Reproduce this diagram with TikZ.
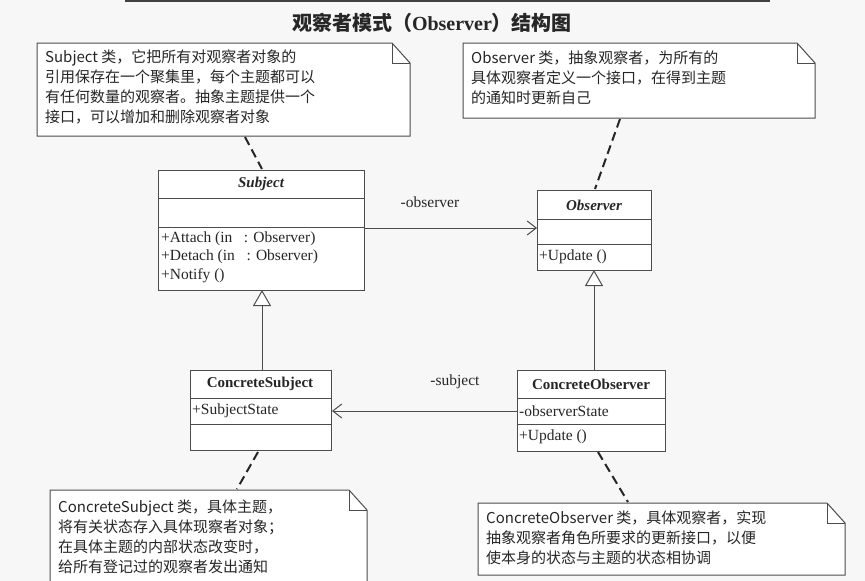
\documentclass[tikz,border=0pt]{standalone}
\usepackage{fontspec}
\setmainfont{Liberation Serif}
\newfontfamily\cjk{Noto Sans CJK SC}
\usetikzlibrary{arrows.meta}
\tikzset{
  ln/.style={draw=black!70, line width=1pt},
  notetxt/.style={anchor=north west, inner sep=0pt, font=\cjk\fontsize{15}{20}\selectfont, align=left, text=black!85},
  box/.style={ln, fill=white, anchor=north west, inner sep=0pt},
  ctxt/.style={anchor=west, inner sep=0pt, font=\fontsize{15.5}{16}\selectfont, text=black!85},
  cname/.style={inner sep=0pt, font=\bfseries\fontsize{15}{16}\selectfont, text=black!85},
  dsh/.style={draw=black!85, line width=2pt, dash pattern=on 9pt off 5pt},
  assoc/.style={ln, -{Straight Barb[length=9pt,width=14pt]}},
  gen/.style={ln, {Triangle[open,length=16pt,width=18pt,fill=white]}-},
}
\newcommand\notebox[5]{%
  \coordinate (#1nw) at (#2,#3); \coordinate (#1se) at (#4,#5);
  \draw[ln, fill=white] (#2,#3) -- (#4-18,#3) -- (#4,#3+20) -- (#4,#5) -- (#2,#5) -- cycle;
  \draw[ln] (#4-18,#3) -- (#4-18,#3+20) -- (#4,#3+20);}
\begin{document}
\begin{tikzpicture}[x=1pt,y=-1pt]
\fill[black!3] (0,0) rectangle (865,581);
\useasboundingbox (0,0) rectangle (865,581);
\draw[black!75, line width=2pt] (125,1) -- (770,1);
\node[font=\cjk\bfseries\fontsize{20}{22}\selectfont, text=black!85] (title) at (432,23) {观察者模式（\textbf{\fontspec{Liberation Serif}Observer}）结构图};

% notes
\notebox{na}{37}{43}{410}{136}
\node[notetxt] (ta) at (45,50) {Subject 类，它把所有对观察者对象的\\引用保存在一个聚集里，每个主题都可以\\有任何数量的观察者。抽象主题提供一个\\接口，可以增加和删除观察者对象};
\notebox{nb}{463}{43}{815}{118}
\node[notetxt] (tb) at (471,51) {Observer 类，抽象观察者，为所有的\\具体观察者定义一个接口，在得到主题\\的通知时更新自己};
\notebox{nc}{50}{490}{367}{590}
\node[notetxt] (tc) at (58,500) {ConcreteSubject 类，具体主题，\\将有关状态存入具体现察者对象；\\在具体主题的内部状态改变时，\\给所有登记过的观察者发出通知};
\notebox{nd}{478}{503}{845}{575}
\node[notetxt] (td) at (486,511) {ConcreteObserver 类，具体观察者，实现\\抽象观察者角色所要求的更新接口，以便\\使本身的状态与主题的状态相协调};

% classes
\node[box, minimum width=206pt, minimum height=120pt] (subj) at (158,170) {};
\draw[ln] (158,198) -- (364,198) (158,227) -- (364,227);
\node[cname, font=\bfseries\itshape\fontsize{15}{16}\selectfont] (subjn) at (261,184) {Subject};
\node[ctxt] (s1) at (161,239) {+Attach (in\ \ \ : Observer)};
\node[ctxt] (s2) at (161,257) {+Detach (in\ \ \ : Observer)};
\node[ctxt] (s3) at (161,276) {+Notify ()};

\node[box, minimum width=114pt, minimum height=80pt] (obs) at (537,190) {};
\draw[ln] (537,219) -- (651,219) (537,244) -- (651,244);
\node[cname, font=\bfseries\itshape\fontsize{15}{16}\selectfont] (obsn) at (594,205) {Observer};
\node[ctxt] (o1) at (539,257) {+Update ()};

\node[box, minimum width=141pt, minimum height=80pt] (cs) at (190,370) {};
\draw[ln] (190,398) -- (331,398) (190,424) -- (331,424);
\node[cname] (csn) at (260,384) {ConcreteSubject};
\node[ctxt] (c1) at (192,411) {+SubjectState};

\node[box, minimum width=148pt, minimum height=81pt] (co) at (517,370) {};
\draw[ln] (517,398) -- (665,398) (517,424) -- (665,424);
\node[cname] (con) at (591,384) {ConcreteObserver};
\node[ctxt] (k1) at (519,411) {-observerState};
\node[ctxt] (k2) at (519,437) {+Update ()};

% associations
\draw[assoc] (subj.east |- 0,228) -- (obs.west |- 0,228);
\node[font=\fontsize{15.5}{16}\selectfont, text=black!85] (lo) at (430,202) {-observer};
\draw[assoc] (co.west |- 0,411) -- (cs.east |- 0,411);
\node[font=\fontsize{15.5}{16}\selectfont, text=black!85] (ls) at (455,382) {-subject};

% generalizations
\draw[gen] (262,290) -- (262,370);
\draw[gen] (594,270) -- (594,370);

% note links
\draw[dsh] (245,137) -- (262,169);
\draw[dsh] (620,119) -- (595,189);
\draw[dsh] (258,452) -- (237,489);
\draw[dsh] (598,452) -- (628,502);
\end{tikzpicture}
\end{document}
